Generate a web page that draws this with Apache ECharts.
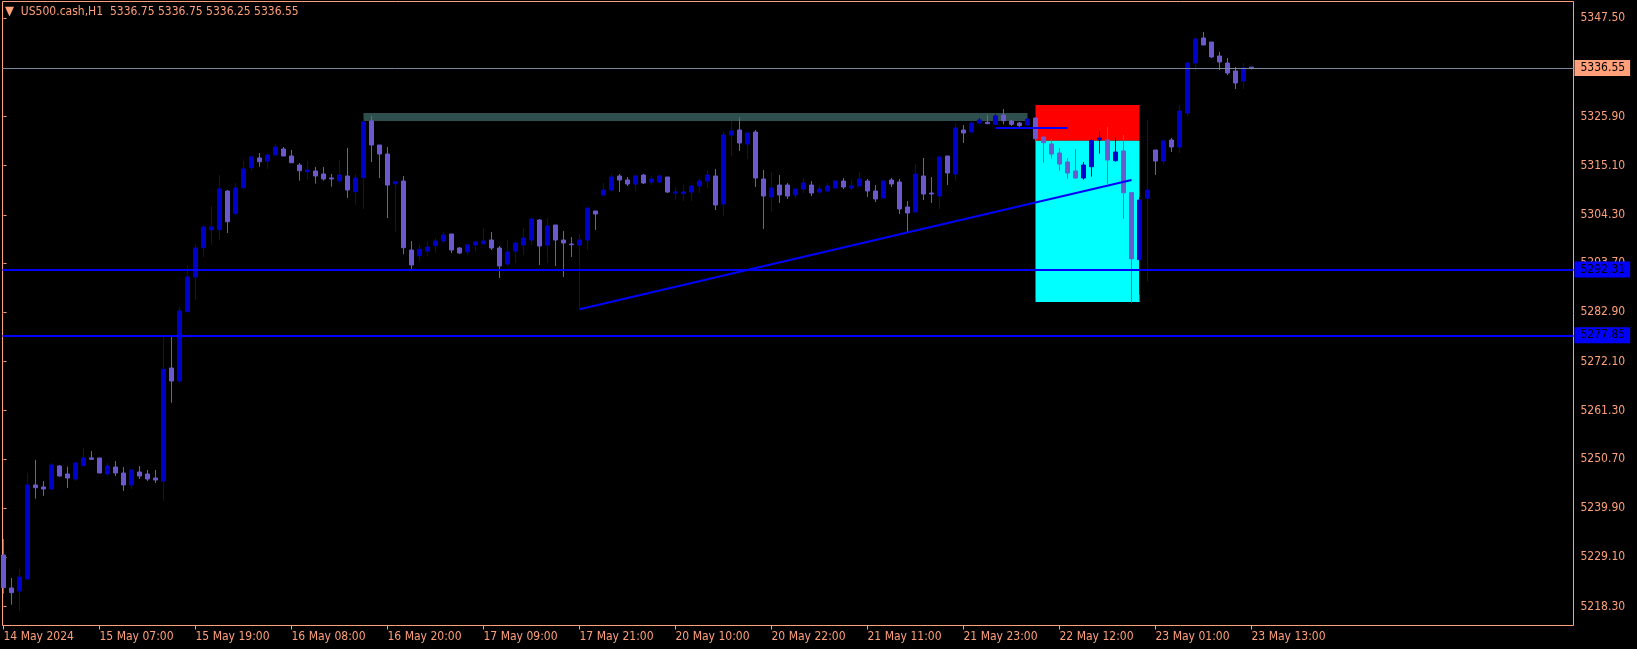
<!DOCTYPE html>
<html>
<head>
<meta charset="utf-8">
<script src="https://cdn.jsdelivr.net/npm/echarts@6/dist/echarts.min.js"></script>
<style>
html,body{margin:0;padding:0;background:#000;}
#chart{width:1637px;height:649px;}
</style>
</head>
<body>
<div id="chart"></div>
<script>
// ---- data (US500.cash, H1) ----
const symbolName = 'US500.cash,H1';

const opens = [
5229.59,5222.34,5221.68,5224.32,5244.97,5244.53,5244.09,5249.14,5247.38,5246.28,
5249.21,5250.90,5250.90,5247.38,5248.92,5247.60,5244.97,5247.82,5247.38,5246.50,
5245.84,5270.66,5267.81,5283.03,5290.65,5297.09,5301.04,5301.04,5309.54,5304.56,
5310.27,5314.66,5316.79,5316.13,5317.45,5318.77,5317.23,5315.25,5313.78,5313.94,
5313.28,5312.40,5311.74,5312.84,5309.39,5312.47,5324.92,5319.65,5317.67,5311.15,
5311.74,5296.58,5295.33,5296.36,5297.53,5298.56,5300.10,5297.02,5296.21,5297.68,
5297.97,5298.78,5297.02,5293.51,5296.36,5297.68,5298.78,5303.17,5297.68,5302.08,
5298.78,5297.90,5297.68,5298.78,5305.15,5308.67,5309.76,5312.84,5311.96,5311.08,
5313.06,5311.52,5311.52,5312.62,5309.10,5308.95,5309.32,5310.64,5311.74,5312.84,
5306.69,5321.84,5322.94,5319.87,5322.50,5312.18,5308.23,5310.86,5310.86,5308.67,
5309.98,5310.86,5309.32,5309.54,5310.20,5311.74,5310.20,5310.64,5311.74,5309.54,
5308.01,5311.96,5311.52,5306.03,5304.93,5312.84,5309.10,5308.45,5317.23,5313.28,
5322.94,5322.50,5324.48,5324.63,5324.19,5326.24,5324.92,5324.48,5324.04,5325.58,
5321.41,5319.87,5317.89,5315.91,5313.94,5312.40,5314.88,5320.81,5320.75,5316.20,
5318.33,5309.17,5294.45,5307.94,5318.55,5316.13,5320.75,5319.21,5326.68,5337.66,
5343.15,5342.27,5339.20,5337.66,5335.90,5333.71,5336.75
];

const closes = [
5222.41,5221.31,5224.76,5244.97,5244.37,5244.09,5249.36,5246.94,5246.50,5249.80,
5250.90,5250.61,5247.60,5249.14,5247.60,5244.97,5248.26,5246.94,5246.28,5246.06,
5270.38,5267.81,5283.19,5290.65,5297.02,5301.64,5301.64,5309.98,5302.80,5310.20,
5314.38,5317.01,5315.98,5317.45,5319.21,5317.23,5315.76,5314.00,5314.16,5312.84,
5312.18,5312.18,5313.06,5309.76,5312.40,5324.70,5319.65,5317.67,5310.86,5311.59,
5297.09,5293.29,5296.74,5297.24,5298.56,5299.88,5296.58,5295.92,5297.68,5298.34,
5298.56,5297.02,5293.07,5296.15,5298.12,5299.22,5303.39,5297.46,5301.86,5298.78,
5298.12,5297.75,5298.78,5305.81,5304.49,5309.76,5312.62,5311.96,5311.08,5312.84,
5311.30,5312.18,5312.84,5309.32,5309.32,5309.32,5310.64,5311.74,5313.06,5306.47,
5321.84,5322.72,5320.09,5322.28,5312.40,5308.45,5310.20,5308.67,5308.45,5309.98,
5311.30,5309.10,5309.98,5310.64,5311.74,5310.42,5310.64,5312.18,5309.54,5307.79,
5311.74,5311.08,5305.59,5304.71,5313.28,5308.88,5308.88,5317.01,5313.50,5323.38,
5322.28,5324.48,5325.14,5324.33,5326.02,5324.99,5324.19,5323.89,5325.36,5321.03,
5320.15,5317.67,5315.47,5313.50,5312.40,5315.25,5320.59,5321.19,5316.35,5318.11,
5309.17,5294.67,5307.57,5309.76,5316.13,5320.53,5319.21,5327.12,5337.66,5342.93,
5341.61,5338.98,5337.88,5335.46,5333.27,5336.56,5336.55
];

const lows = [
5221.09,5218.67,5217.29,5224.16,5241.96,5242.55,5244.09,5246.79,5244.31,5245.84,
5249.21,5250.46,5247.60,5247.01,5246.94,5243.65,5244.09,5246.28,5245.84,5245.40,
5241.45,5263.04,5267.59,5283.03,5285.60,5295.05,5297.68,5298.78,5300.32,5304.56,
5309.98,5314.00,5314.88,5314.38,5317.45,5317.23,5315.76,5311.81,5312.03,5311.15,
5311.81,5310.49,5311.74,5308.01,5306.47,5305.59,5315.91,5312.40,5303.61,5300.60,
5295.64,5292.19,5294.01,5295.33,5295.92,5298.12,5295.92,5295.71,5295.49,5296.36,
5297.97,5296.58,5290.43,5293.07,5293.73,5295.49,5297.68,5293.29,5293.73,5293.07,
5290.65,5295.05,5283.56,5296.58,5300.98,5308.67,5309.54,5309.32,5310.64,5309.54,
5311.08,5310.86,5311.30,5309.10,5307.57,5307.35,5307.35,5309.10,5310.20,5305.37,
5304.05,5317.23,5318.33,5316.57,5310.42,5301.20,5304.93,5306.91,5307.79,5308.01,
5309.10,5308.45,5309.10,5309.54,5310.20,5309.98,5309.76,5310.64,5308.23,5307.13,
5308.01,5310.42,5304.49,5300.32,5304.93,5307.57,5306.91,5305.59,5310.86,5311.74,
5320.09,5322.50,5324.26,5324.26,5324.19,5324.19,5323.82,5323.60,5323.82,5320.37,
5315.76,5316.64,5314.00,5312.25,5312.25,5312.03,5312.68,5317.74,5311.08,5315.98,
5303.46,5285.01,5286.77,5289.62,5313.06,5315.47,5318.11,5317.89,5326.02,5335.90,
5341.61,5338.76,5336.12,5335.02,5331.95,5331.95,5336.25
];

const highs = [
5233.10,5224.54,5226.51,5247.67,5250.46,5245.84,5249.80,5249.36,5248.99,5249.80,
5253.09,5252.43,5250.90,5249.80,5250.24,5248.92,5248.48,5249.14,5248.26,5248.26,
5277.91,5277.91,5284.00,5293.29,5297.90,5301.86,5306.25,5313.06,5309.76,5311.30,
5316.13,5317.23,5317.89,5317.45,5319.87,5319.21,5318.55,5315.69,5316.13,5314.82,
5314.82,5313.28,5316.35,5318.99,5313.28,5325.36,5326.02,5319.65,5319.21,5311.59,
5312.84,5298.56,5297.68,5298.56,5299.22,5300.54,5300.10,5297.24,5297.90,5298.56,
5301.42,5300.54,5297.46,5298.78,5298.12,5301.42,5303.61,5303.39,5303.61,5302.08,
5300.76,5299.44,5300.10,5305.81,5305.15,5311.30,5313.28,5313.28,5312.62,5313.06,
5313.28,5312.84,5313.06,5312.62,5310.42,5310.86,5310.86,5312.18,5314.16,5314.38,
5322.50,5324.92,5325.80,5322.28,5322.94,5314.16,5313.72,5313.06,5311.30,5309.98,
5312.40,5311.74,5310.86,5311.30,5311.96,5312.40,5312.18,5313.72,5312.18,5310.86,
5311.96,5312.40,5312.18,5307.35,5315.47,5316.79,5312.62,5317.01,5317.23,5324.48,
5324.04,5324.70,5325.58,5326.24,5326.46,5327.56,5325.14,5324.70,5325.58,5325.58,
5321.41,5320.97,5318.99,5316.79,5318.77,5315.91,5320.97,5322.72,5323.60,5321.41,
5321.84,5309.17,5308.23,5325.14,5318.55,5320.75,5321.19,5328.43,5337.66,5343.37,
5344.47,5342.27,5340.08,5338.76,5336.78,5337.66,5336.75
];

// x-axis tick labels (bar index -> label)
const xTickIndex = [0,12,24,36,48,60,72,84,96,108,120,132,144,156];
const xTickLabels = ['14 May 2024','15 May 07:00','15 May 19:00','16 May 08:00','16 May 20:00',
  '17 May 09:00','17 May 21:00','20 May 10:00','20 May 22:00','21 May 11:00','21 May 23:00',
  '22 May 12:00','23 May 01:00','23 May 13:00'];

// y-axis price labels
const yTickValues = [5347.50,5325.90,5315.10,5304.30,5293.70,5282.90,5272.10,5261.30,5250.70,5239.90,5229.10,5218.30];

// price levels and drawn objects
const bidPrice = 5336.55;
const levelPrices = [5292.31, 5277.85];
const trendStart = [72, 5283.56];
const trendEnd = [141, 5311.96];
const entryLine = [124, 133, 5323.38];
const resistanceZone = [45, 128, 5326.68, 5324.92];
const stopZone = [129, 142, 5328.43, 5320.59];
const targetZone = [129, 142, 5320.59, 5285.16];

// ---- chart ----
const FG = '#FFA07A';
const FONT = '"DejaVu Sans Condensed","DejaVu Sans",sans-serif';
const BULL = '#0000CD';
const BEAR = '#6A5ACD';
const LINE_BLUE = '#0000FF';

const n = opens.length;
const seriesData = opens.map((o, i) => [i, o, closes[i], lows[i], highs[i]]);
const f2 = v => Number(v).toFixed(2);

const priceLabel = (bg) => ({
  show: true, position: 'end', distance: 1,
  formatter: p => f2(p.value),
  backgroundColor: bg, color: '#000', padding: [1, 5, 1, 6],
  fontSize: 12, lineHeight: 14, fontFamily: FONT
});

const chart = echarts.init(document.getElementById('chart'), null, {renderer: 'canvas'});
chart.setOption({
  backgroundColor: '#000000',
  animation: false,
  title: {
    text: '{tri|\u25BC}  ' + symbolName + '  ' + [opens[n-1], highs[n-1], lows[n-1], closes[n-1]].map(f2).join(' '),
    left: 5, top: 5, padding: 0,
    textStyle: {
      color: FG, fontSize: 12, fontWeight: 'normal', fontFamily: FONT,
      rich: {tri: {color: FG, fontSize: 13, fontFamily: FONT}}
    }
  },
  grid: {
    left: 2.5, top: 1.5, right: 63.5, bottom: 23.5,
    show: true, borderColor: FG, borderWidth: 1, backgroundColor: 'transparent',
    containLabel: false, outerBoundsMode: 'none'
  },
  xAxis: {
    type: 'value', min: -0.125, max: 196.25,
    axisLine: {show: false},
    splitLine: {show: false},
    axisTick: {show: true, customValues: xTickIndex, length: 4, lineStyle: {color: FG}},
    axisLabel: {
      customValues: xTickIndex,
      formatter: v => xTickLabels[xTickIndex.indexOf(Math.round(v))] || '',
      align: 'left', margin: 5, color: FG, fontSize: 12, fontFamily: FONT
    }
  },
  yAxis: {
    type: 'value', position: 'right', min: 5214.10, max: 5351.17, scale: true,
    axisLine: {show: false},
    splitLine: {show: false},
    axisTick: {show: true, customValues: yTickValues, length: 3, lineStyle: {color: FG}},
    axisLabel: {
      customValues: yTickValues,
      formatter: v => f2(v),
      margin: 7, color: FG, fontSize: 12, fontFamily: FONT
    }
  },
  series: [{
    type: 'candlestick',
    data: seriesData,
    encode: {x: 0, y: [1, 2, 3, 4]},
    barWidth: 4,
    clip: true,
    itemStyle: {color: BULL, color0: BEAR, borderColor: BULL, borderColor0: BEAR, borderWidth: 1},
    markArea: {
      silent: true,
      data: [
        [{coord: [resistanceZone[0], resistanceZone[2]], itemStyle: {color: '#2F4F4F', opacity: 1}},
         {coord: [resistanceZone[1], resistanceZone[3]]}],
        [{coord: [stopZone[0], stopZone[2]], itemStyle: {color: '#FF0000', opacity: 1}},
         {coord: [stopZone[1], stopZone[3]]}],
        [{coord: [targetZone[0], targetZone[2]], itemStyle: {color: '#00FFFF', opacity: 1}},
         {coord: [targetZone[1], targetZone[3]]}]
      ]
    },
    markLine: {
      silent: true,
      symbol: ['none', 'none'],
      precision: 2,
      data: [
        {yAxis: bidPrice, lineStyle: {color: '#778899', width: 1, type: 'solid'}, label: priceLabel(FG)},
        {yAxis: levelPrices[0], lineStyle: {color: LINE_BLUE, width: 2, type: 'solid'}, label: priceLabel(LINE_BLUE)},
        {yAxis: levelPrices[1], lineStyle: {color: LINE_BLUE, width: 2, type: 'solid'}, label: priceLabel(LINE_BLUE)},
        [{coord: trendStart, lineStyle: {color: LINE_BLUE, width: 2, type: 'solid'}, label: {show: false}},
         {coord: trendEnd}],
        [{coord: [entryLine[0], entryLine[2]], lineStyle: {color: LINE_BLUE, width: 2, type: 'solid'}, label: {show: false}},
         {coord: [entryLine[1], entryLine[2]]}]
      ]
    }
  }]
});
</script>
</body>
</html>
